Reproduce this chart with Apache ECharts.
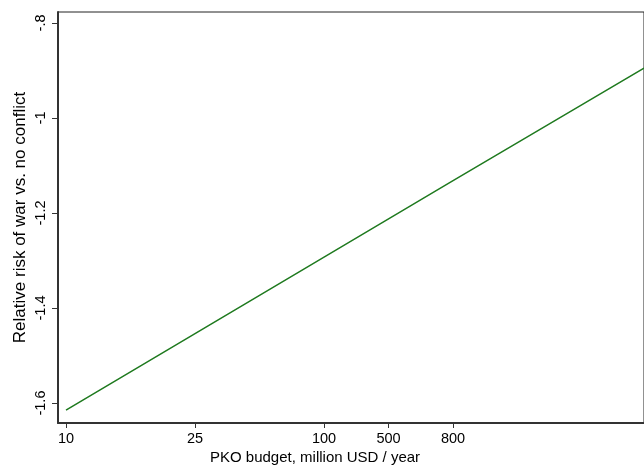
<!DOCTYPE html>
<html>
<head>
<meta charset="utf-8">
<script src="https://cdn.jsdelivr.net/npm/echarts@6/dist/echarts.min.js"></script>
<style>
html,body{margin:0;padding:0;background:#fff;}
#chart{width:644px;height:466px;}
</style>
</head>
<body>
<div id="chart"></div>
<script>
// Tick positions (x axis spaced as in the original) and their labels
const xTickValues = [0, 1, 2, 2.5, 3];
const xTickLabels = ['10', '25', '100', '500', '800'];
const yTickValues = [-1.6, -1.4, -1.2, -1, -0.8];
const yTickLabels = ['-1.6', '-1.4', '-1.2', '-1', '-.8'];
// Line points
const lineX = [0, 1, 2, 3, 4, 4.48];
const lineY = [-1.615, -1.454, -1.293, -1.132, -0.972, -0.895];

const FONT = "'Liberation Sans', Arial, sans-serif";
const chart = echarts.init(document.getElementById('chart'), null, {renderer: 'canvas'});
chart.setOption({
  animation: false,
  backgroundColor: '#fff',
  title: {
    text: 'PKO budget, million USD / year',
    left: 210, top: 450, padding: 0,
    textStyle: {fontSize: 15, fontWeight: 'normal', color: '#000', fontFamily: FONT}
  },
  grid: {left: 58, right: -4, top: 12, bottom: 43, show: true, borderColor: '#222', borderWidth: 1, backgroundColor: 'transparent'},
  xAxis: {
    type: 'value', min: -0.062, max: 4.48,
    splitLine: {show: false},
    axisLine: {show: true, onZero: false, lineStyle: {color: '#333', width: 2}},
    axisTick: {show: true, length: 5, customValues: xTickValues, lineStyle: {color: '#333'}},
    axisLabel: {
      customValues: xTickValues, margin: 8, fontSize: 14.5, color: '#000', fontFamily: FONT,
      formatter: v => xTickLabels[xTickValues.indexOf(v)]
    }
  },
  yAxis: {
    type: 'value', min: -1.642, max: -0.777,
    name: 'Relative risk of war vs. no conflict',
    nameLocation: 'middle', nameGap: 29, nameMoveOverlap: false,
    nameTextStyle: {fontSize: 17, color: '#000', fontFamily: FONT},
    splitLine: {show: false},
    axisLine: {show: true, onZero: false, lineStyle: {color: '#333', width: 2}},
    axisTick: {show: true, length: 6, customValues: yTickValues, lineStyle: {color: '#333'}},
    axisLabel: {
      customValues: yTickValues, rotate: 90, margin: 10, fontSize: 14.5, color: '#000', fontFamily: FONT,
      formatter: v => yTickLabels[yTickValues.findIndex(t => Math.abs(t - v) < 1e-9)]
    }
  },
  series: [{
    type: 'line',
    data: lineX.map((x, i) => [x, lineY[i]]),
    showSymbol: false,
    lineStyle: {color: '#1f7a1f', width: 1.5},
    clip: true
  }]
});
</script>
</body>
</html>
